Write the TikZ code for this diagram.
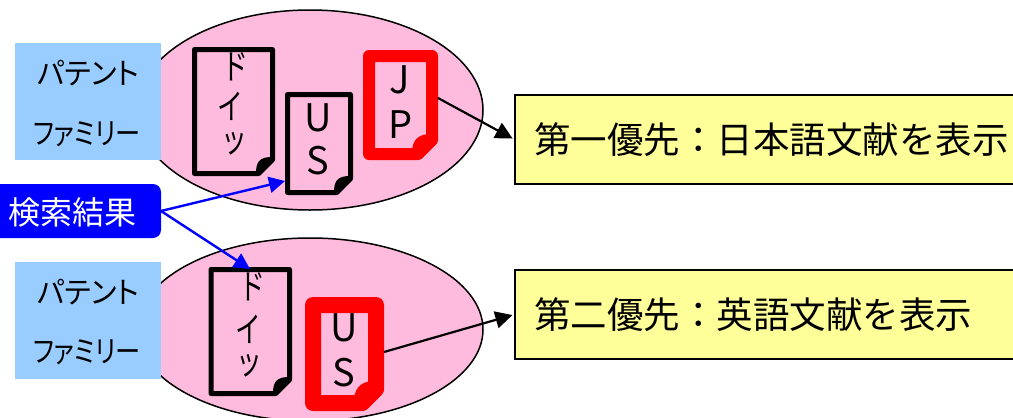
\documentclass[tikz,border=0pt]{standalone}
\usepackage{fontspec}
\setmainfont{Noto Sans CJK JP}
\newfontfamily\palt[RawFeature=+palt]{Noto Sans CJK JP}
\usetikzlibrary{arrows.meta,shapes.geometric}
\definecolor{pinkfill}{HTML}{FFBBDD}
\definecolor{skyfill}{HTML}{99CCFF}
\definecolor{yellowfill}{HTML}{FFFF99}
\tikzset{
  x=1pt,y=-1pt,
  foldcolor/.initial=black,
  family/.style={ellipse,draw=black,line width=1.5pt,fill=pinkfill,inner sep=0pt},
  labelbox/.style={fill=skyfill,minimum width=146pt,minimum height=117pt,inner sep=0pt},
  labeltext/.style={font=\palt\fontsize{30}{30}\selectfont,inner sep=0pt,text=black},
  resultbox/.style={draw=black,line width=1.3pt,fill=yellowfill,minimum height=89pt,inner sep=0pt},
  resulttext/.style={font=\fontsize{36.5}{36.5}\selectfont,inner sep=0pt,anchor=west},
  blackdoc/.style={draw=black,line width=5pt,line join=round,fill=pinkfill},
  reddoc/.style={draw=red,line join=round,fill=pinkfill},
  doctext/.style={font=\fontsize{38}{38}\selectfont,inner sep=0pt},
  kanatext/.style={font=\fontsize{35}{35}\selectfont,inner sep=0pt},
  bluearrow/.style={draw=blue,line width=2.4pt,-{Triangle[length=16pt,width=16pt]}},
  blackarrow/.style={draw=black,line width=2.2pt,shorten >=2pt,-{Triangle[length=17pt,width=17pt]}}
}
\newcommand{\kana}[1]{\scalebox{0.74}[1]{#1}}
% x1 y1 x2 y2 fold style
\newcommand{\docpath}[6]{%
  \draw[#6] (#1,#2) -- (#3,#2) -- (#3,#4-#5) -- (#3-#5,#4) -- (#1,#4) -- cycle;
  \fill[#6,fill=\pgfkeysvalueof{/tikz/foldcolor}] (#3-#5,#4) .. controls (#3-#5,#4-#5+3) and (#3-#5+3,#4-#5) .. (#3,#4-#5) -- cycle;
}
\begin{document}
\begin{tikzpicture}
\useasboundingbox (0,0) rectangle (1013,418);
\begin{scope}
\clip (0,0) rectangle (1013,418);
\node[family,minimum width=346pt,minimum height=200pt] (fam1) at (310,110) {};
\node[family,minimum width=346pt,minimum height=183pt] (fam2) at (310,329.5) {};
\node[labelbox] (lab1) at (88,101.5) {};
\node[labeltext] (lab1a) at (88,73) {\scalebox{0.97}[1]{パテント}};
\node[labeltext] (lab1b) at (87,134) {\scalebox{0.84}[1]{ファミリー}};
\node[labelbox] (lab2) at (88,320.5) {};
\node[labeltext] (lab2a) at (88,292) {\scalebox{0.97}[1]{パテント}};
\node[labeltext] (lab2b) at (87,352) {\scalebox{0.84}[1]{ファミリー}};
% documents
\docpath{194.5}{49.5}{272.5}{173.5}{14}{blackdoc}
\node[kanatext] (d1a) at (235,67) {\kana{ド}};
\node[kanatext] (d1b) at (230,106) {\kana{イ}};
\node[kanatext] (d1c) at (234,144) {\kana{ッ}};
\docpath{287.5}{94.5}{350.5}{192.5}{14}{blackdoc}
\node[doctext] (u1a) at (318,118) {U};
\node[doctext] (u1b) at (318,161) {S};
\docpath{369}{56}{432}{154}{14}{reddoc,line width=12pt,foldcolor=red}
\node[doctext] (j1a) at (400,80) {J};
\node[doctext] (j1b) at (401,125) {P};
\docpath{211}{269.5}{289.5}{393.5}{14}{blackdoc}
\node[kanatext] (d2a) at (252,287) {\kana{ド}};
\node[kanatext] (d2b) at (248,329) {\kana{イ}};
\node[kanatext] (d2c) at (249,366) {\kana{ッ}};
\docpath{313}{305}{376}{403}{14}{reddoc,line width=16pt,foldcolor=red}
\node[doctext] (u2a) at (344,328) {U};
\node[doctext] (u2b) at (344,373) {S};
% named connector ends
\coordinate (jpout) at (438,98);
\coordinate (usout) at (384,352);
\coordinate (usin) at (285,181);
\coordinate (dein) at (250,269);
% boxes
\fill[blue,rounded corners=8pt] (-20,184) rectangle (161,238);
\node[inner sep=0pt,minimum width=0pt] (search) at (161,211) {};
\node[font=\fontsize{32}{32}\selectfont,text=white,inner sep=0pt] (searcht) at (73,212) {検索結果};
\node[resultbox,minimum width=510pt] (res1) at (770,139.5) {};
\node[resulttext] (res1t) at (534,140) {第一優先：日本語文献を表示};
\node[resultbox,minimum width=510pt] (res2) at (770,314.5) {};
\node[resulttext] (res2t) at (534,315) {第二優先：英語文献を表示};
% connectors
\draw[blackarrow] (jpout) -- (res1.west);
\draw[blackarrow] (usout) -- (res2.west);
\draw[bluearrow] (search) -- (usin);
\draw[bluearrow] (search) -- (dein);
\end{scope}
\end{tikzpicture}
\end{document}
